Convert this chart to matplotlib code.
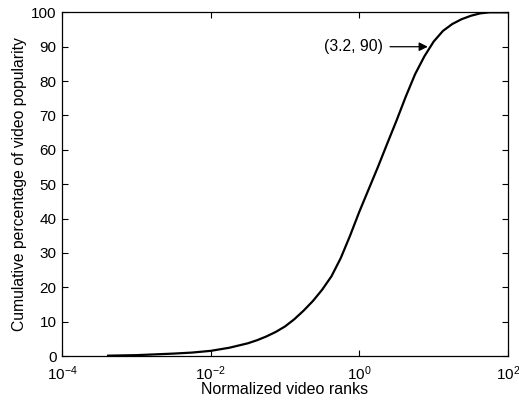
import numpy as np
import matplotlib
matplotlib.use('Agg')
import matplotlib.pyplot as plt
from matplotlib.ticker import NullLocator, FixedLocator

plt.rcParams['font.family'] = ['Liberation Sans', 'DejaVu Sans']
plt.rcParams['mathtext.fontset'] = 'custom'
plt.rcParams['mathtext.rm'] = 'Liberation Sans'
plt.rcParams['mathtext.it'] = 'Liberation Sans'

# CDF of video popularity vs normalized rank (log10 of rank, percent)
log_rank = [-3.38, -3.0, -2.5, -2.25, -2.0, -1.75, -1.5, -1.375, -1.25,
            -1.125, -1.0, -0.875, -0.75, -0.625, -0.5, -0.375, -0.25,
            -0.125, 0.0, 0.125, 0.25, 0.375, 0.5, 0.625, 0.75, 0.875,
            1.0, 1.125, 1.25, 1.375, 1.5, 1.625, 1.75, 2.0]
cum_pct = [0.1, 0.25, 0.7, 1.0, 1.5, 2.4, 3.7, 4.6, 5.7,
           7.0, 8.6, 10.7, 13.2, 16.0, 19.3, 23.2, 28.5,
           35.0, 42.0, 48.5, 55.0, 61.8, 68.5, 75.5, 82.0, 87.2,
           91.5, 94.6, 96.6, 98.0, 99.0, 99.7, 100.0, 100.0]
rank = 10.0 ** np.array(log_rank)

note_text = '(3.2, 90)'
note_xy = (10 ** 0.94, 90)

fig = plt.figure(figsize=(5.19, 4.01), dpi=100)
ax = fig.add_axes([0.1195, 0.1122, 0.8593, 0.857])

ax.semilogx(rank, cum_pct, '-', color='black', linewidth=1.6)

ax.set_xlim(1e-4, 1e2)
ax.set_ylim(0, 100)
ax.xaxis.set_major_locator(FixedLocator([1e-4, 1e-2, 1e0, 1e2]))
ax.xaxis.set_minor_locator(NullLocator())
ax.set_yticks(np.arange(0, 101, 10))
ax.tick_params(direction='in', length=4, width=0.8, top=True, right=True,
               labelsize=11, pad=4)
ax.tick_params(axis='x', pad=6)
for sp in ax.spines.values():
    sp.set_linewidth(0.9)

ax.annotate(note_text, xy=note_xy, xytext=(10 ** 0.32, 90),
            ha='right', va='center', fontsize=11.3,
            arrowprops=dict(arrowstyle='-|>', color='black', lw=0.9,
                            shrinkA=3, shrinkB=1, mutation_scale=13))

ax.set_xlabel('Normalized video ranks', fontsize=11.5, labelpad=-1)
ax.set_ylabel('Cumulative percentage of video popularity', fontsize=11.3,
              labelpad=3)

fig.savefig('out.png', dpi=100, facecolor='white')
